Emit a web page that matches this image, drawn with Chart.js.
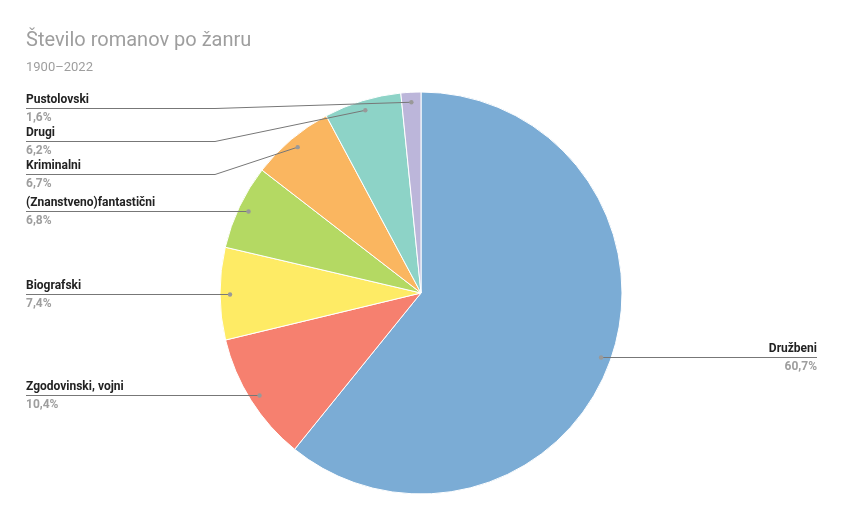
<!DOCTYPE html>
<html>
<head>
<meta charset="utf-8">
<script src="https://cdn.jsdelivr.net/npm/chart.js@4/dist/chart.umd.min.js"></script>
<style>
  html, body { margin: 0; padding: 0; background: #fff; }
  #wrap { width: 843px; height: 521px; position: relative; }
</style>
</head>
<body>
<div id="wrap"><canvas id="c" width="843" height="521"></canvas></div>
<script>
const chartTitle = 'Število romanov po žanru';
const chartSubtitle = '1900–2022';
const genres = ['Družbeni', 'Zgodovinski, vojni', 'Biografski', '(Znanstveno)fantastični', 'Kriminalni', 'Drugi', 'Pustolovski'];
const shares = [60.7, 10.4, 7.4, 6.8, 6.7, 6.2, 1.6];
const sliceColors = ['#7bacd5', '#f6806f', '#feeb65', '#b4d963', '#fab660', '#8dd3c7', '#bcb6da'];

const fmtPct = v => v.toFixed(1).replace('.', ',') + '%';

// Title, subtitle and leader-line labels drawn on top of the pie
const calloutPlugin = {
  id: 'callouts',
  afterDraw(chart) {
    const ctx = chart.ctx;
    ctx.save();
    ctx.fillStyle = '#9e9e9e';
    ctx.textBaseline = 'alphabetic';
    ctx.textAlign = 'left';
    ctx.font = '20px Roboto';
    ctx.fillText(chartTitle, 26, 46);
    ctx.font = '13px Roboto';
    ctx.fillText(chartSubtitle, 26, 71);

    const meta = chart.getDatasetMeta(0);
    const arcs = meta.data;
    const cx = arcs[0].x, cy = arcs[0].y, r = arcs[0].outerRadius;
    const items = arcs.map((a, i) => {
      const mid = (a.startAngle + a.endAngle) / 2;
      const dr = r - 10;
      return { i, dx: cx + Math.cos(mid) * dr, dy: cy + Math.sin(mid) * dr, left: Math.cos(mid) < 0 };
    });
    const place = list => {
      list.sort((a, b) => a.dy - b.dy);
      let prev = -Infinity;
      const minY = cy - r + 16;
      list.forEach(it => {
        it.ly = Math.max(it.dy, prev + 33, minY);
        prev = it.ly;
      });
    };
    const lefts = items.filter(it => it.left);
    const rights = items.filter(it => !it.left);
    place(lefts); place(rights);

    const leftX = 26, rightX = 817;
    const elbowL = cx - r - 5, elbowR = cx + r + 5;
    items.forEach(it => {
      ctx.strokeStyle = '#777';
      ctx.lineWidth = 1;
      ctx.beginPath();
      const y = Math.round(it.ly) + 0.5;
      const bent = Math.abs(it.ly - it.dy) > 0.5;
      if (it.left) {
        ctx.moveTo(leftX, y);
        if (bent) {
          ctx.lineTo(Math.min(elbowL, it.dx), y);
          ctx.lineTo(it.dx, it.dy);
        } else {
          ctx.lineTo(it.dx, y);
        }
      } else {
        ctx.moveTo(rightX, y);
        if (bent) {
          ctx.lineTo(Math.max(elbowR, it.dx), y);
          ctx.lineTo(it.dx, it.dy);
        } else {
          ctx.lineTo(it.dx, y);
        }
      }
      ctx.stroke();
      ctx.fillStyle = '#999';
      ctx.beginPath();
      ctx.arc(it.dx, bent ? it.dy : y, 2.2, 0, Math.PI * 2);
      ctx.fill();

      ctx.textAlign = it.left ? 'left' : 'right';
      const tx = it.left ? leftX : rightX;
      ctx.textBaseline = 'middle';
      ctx.font = 'bold 12px Roboto';
      ctx.fillStyle = '#222';
      ctx.fillText(genres[it.i], tx, it.ly - 8);
      ctx.fillStyle = '#9e9e9e';
      ctx.fillText(fmtPct(shares[it.i]), tx, it.ly + 10);
    });
    ctx.restore();
  }
};

new Chart(document.getElementById('c'), {
  type: 'pie',
  data: {
    labels: genres,
    datasets: [{
      data: shares,
      backgroundColor: sliceColors,
      borderColor: '#ffffff',
      borderWidth: 1,
      hoverOffset: 0
    }]
  },
  options: {
    responsive: false,
    animation: false,
    radius: 201,
    layout: { padding: { left: 210, right: 211, top: 85, bottom: 20 } },
    plugins: {
      legend: { display: false },
      tooltip: { enabled: false },
      title: { display: false }
    }
  },
  plugins: [calloutPlugin]
});
</script>
</body>
</html>
